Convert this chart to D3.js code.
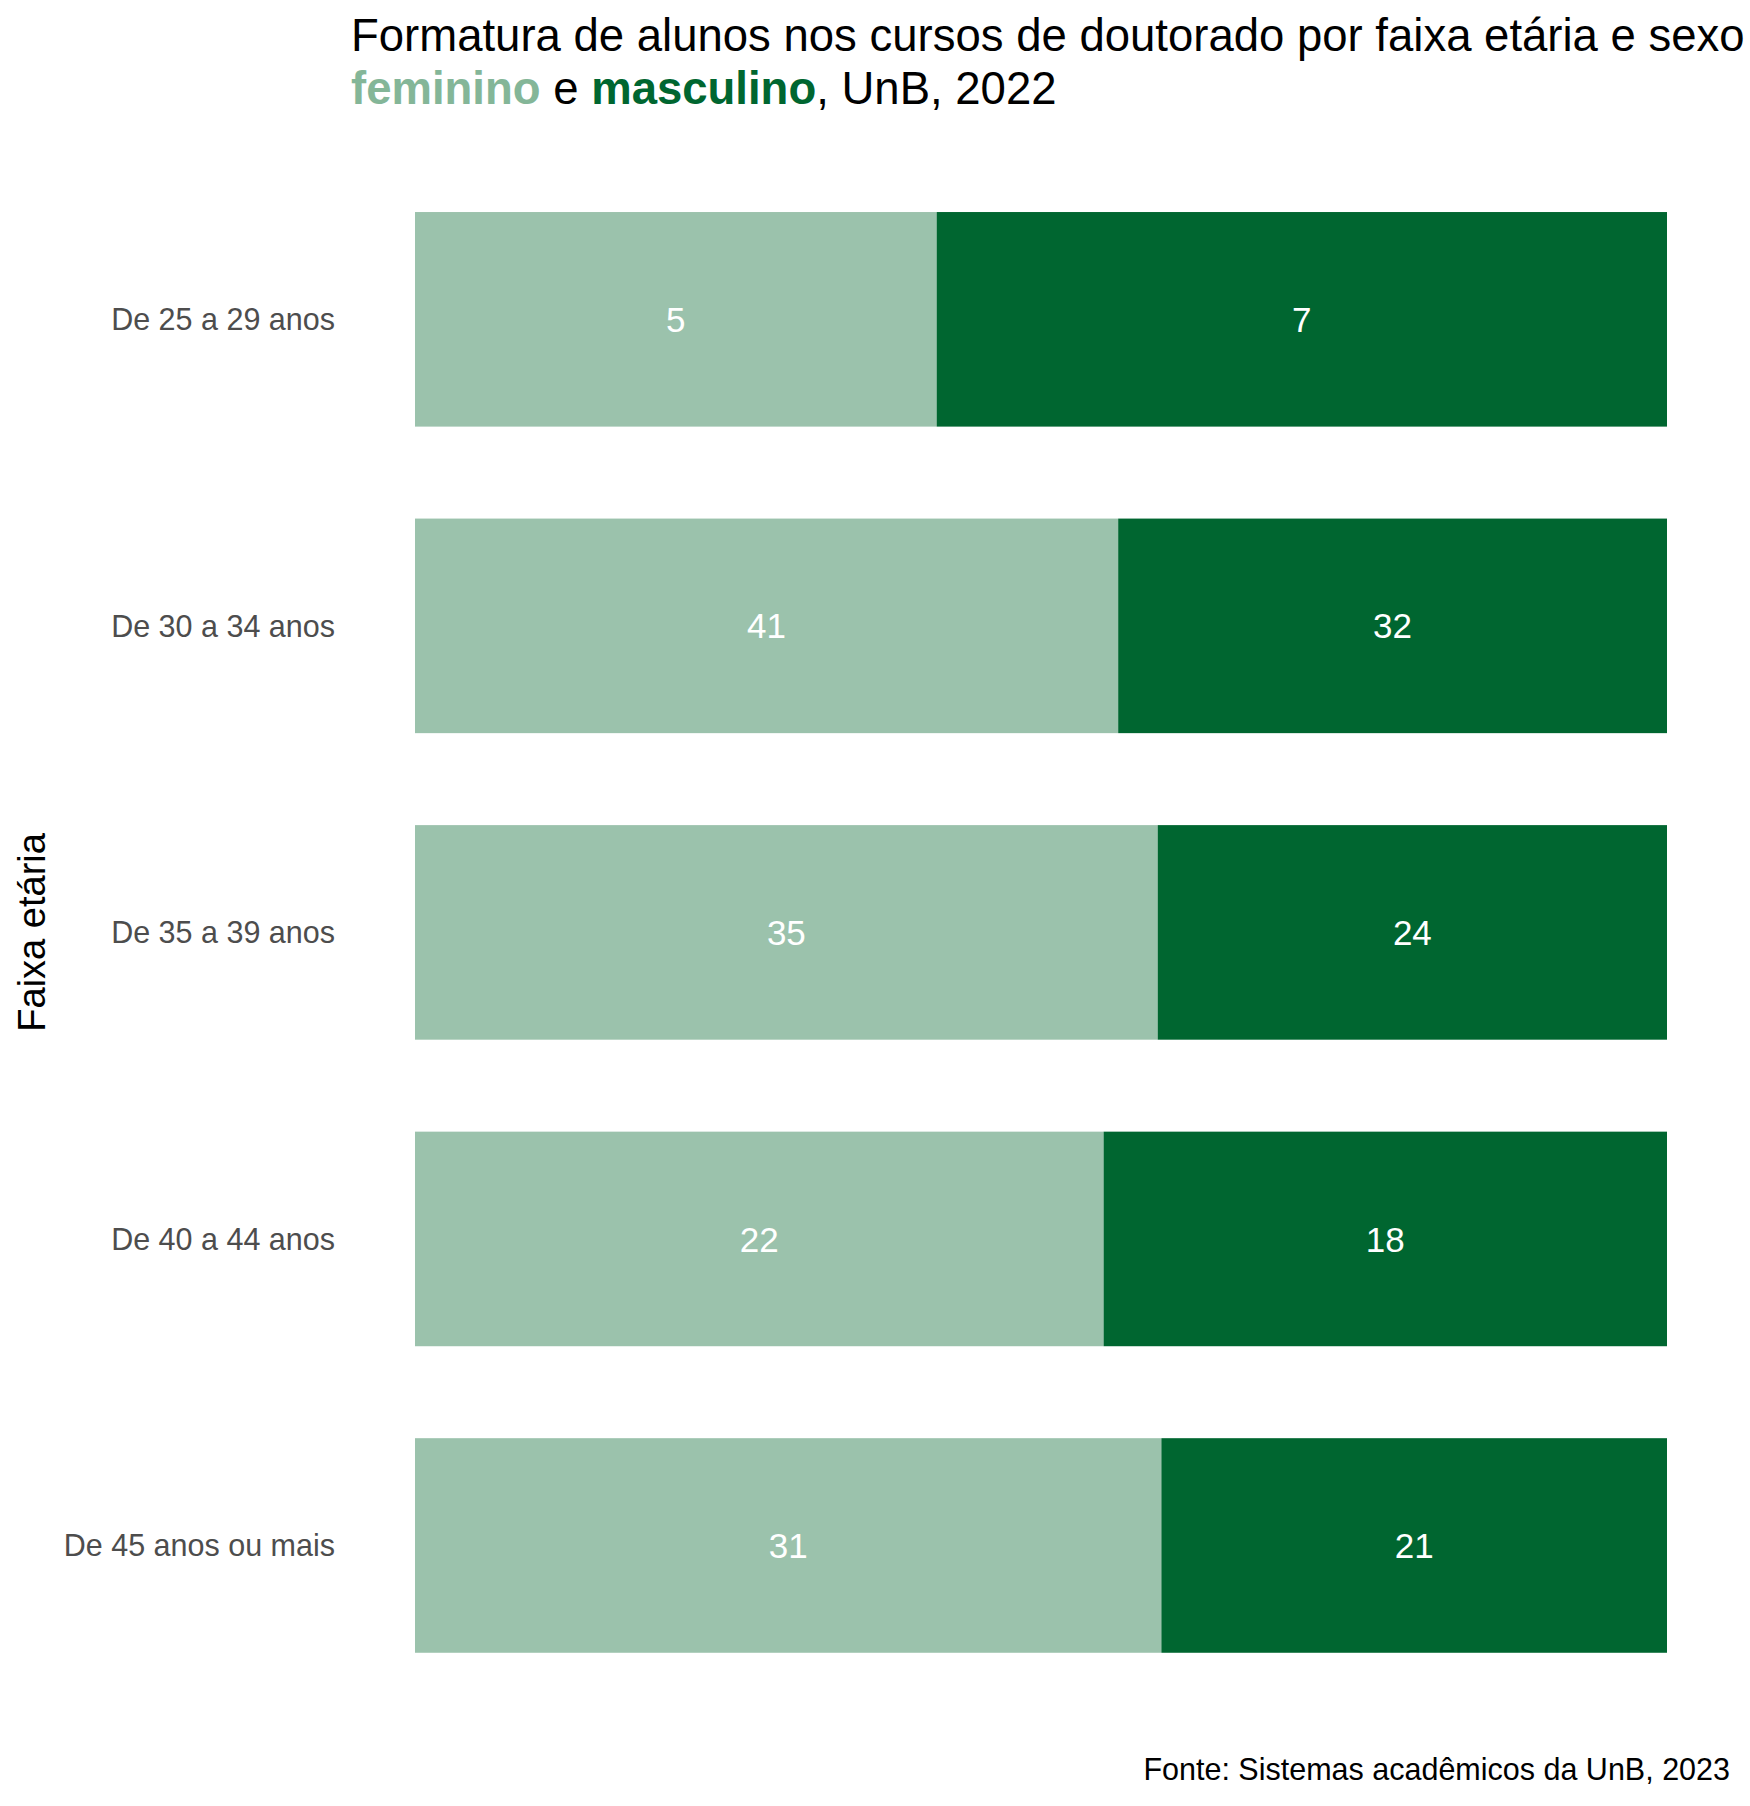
<!DOCTYPE html>
<html>
<head>
<meta charset="utf-8">
<script src="https://cdn.jsdelivr.net/npm/d3@7"></script>
<style>
  html, body { margin: 0; padding: 0; background: #fff; }
  svg { display: block; font-family: "Liberation Sans", Arial, sans-serif; }
</style>
</head>
<body>
<script>
const categories = ["De 25 a 29 anos", "De 30 a 34 anos", "De 35 a 39 anos", "De 40 a 44 anos", "De 45 anos ou mais"];
const feminino = [5, 41, 35, 22, 31];
const masculino = [7, 32, 24, 18, 21];
const seriesNames = ["feminino", "masculino"];
const colors = { feminino: "#9BC2AC", masculino: "#006630" };
const titleColors = { feminino: "#84B698", masculino: "#006630" };

const W = 1750, H = 1806;
const svg = d3.select("body").append("svg").attr("width", W).attr("height", H);

const rows = categories.map((c, i) => ({ cat: c, feminino: feminino[i], masculino: masculino[i] }));
const stack = d3.stack().keys(seriesNames).offset(d3.stackOffsetExpand);
const layers = stack(rows);

const x = d3.scaleLinear().domain([0, 1]).range([415, 1667]);
const y = d3.scaleBand().domain(categories).range([135.4, 1729.4]).paddingInner(0.3).paddingOuter(0.25);

// bars
const g = svg.append("g");
layers.forEach(layer => {
  const key = layer.key;
  g.selectAll(null).data(layer).enter().append("rect")
    .attr("x", d => x(d[0]))
    .attr("y", d => y(d.data.cat))
    .attr("width", d => x(d[1]) - x(d[0]))
    .attr("height", y.bandwidth())
    .attr("fill", colors[key]);
  g.selectAll(null).data(layer).enter().append("text")
    .attr("x", d => (x(d[0]) + x(d[1])) / 2)
    .attr("y", d => y(d.data.cat) + y.bandwidth() / 2)
    .attr("dy", "0.36em")
    .attr("text-anchor", "middle")
    .attr("fill", "#ffffff")
    .attr("font-size", 35)
    .text(d => d.data[key]);
});

// y axis labels
const yAxis = d3.axisLeft(y).tickSize(0).tickPadding(0);
const ya = svg.append("g").attr("transform", "translate(335,0)").call(yAxis);
ya.select(".domain").remove();
ya.selectAll("text")
  .attr("font-size", 30.5)
  .attr("fill", "#4D4D4D")
  .attr("font-family", "'Liberation Sans', Arial, sans-serif")
  .attr("dy", "0.36em");

// axis title
svg.append("text")
  .attr("transform", `translate(45,${(135.4 + 1729.4) / 2}) rotate(-90)`)
  .attr("text-anchor", "middle")
  .attr("font-size", 38)
  .attr("fill", "#000")
  .text("Faixa etária");

// title
const title = svg.append("text").attr("font-size", 45.5).attr("fill", "#000");
title.append("tspan").attr("x", 351).attr("y", 51)
  .text("Formatura de alunos nos cursos de doutorado por faixa etária e sexo");
const l2 = svg.append("text").attr("font-size", 45.5).attr("fill", "#000").attr("x", 351).attr("y", 104);
l2.append("tspan").attr("font-weight", "bold").attr("fill", titleColors.feminino).text("feminino");
l2.append("tspan").text(" e ");
l2.append("tspan").attr("font-weight", "bold").attr("fill", titleColors.masculino).text("masculino");
l2.append("tspan").text(", UnB, 2022");

// caption
svg.append("text")
  .attr("x", 1730).attr("y", 1780)
  .attr("text-anchor", "end")
  .attr("font-size", 30.5)
  .attr("fill", "#000")
  .text("Fonte: Sistemas acadêmicos da UnB, 2023");
</script>
</body>
</html>
